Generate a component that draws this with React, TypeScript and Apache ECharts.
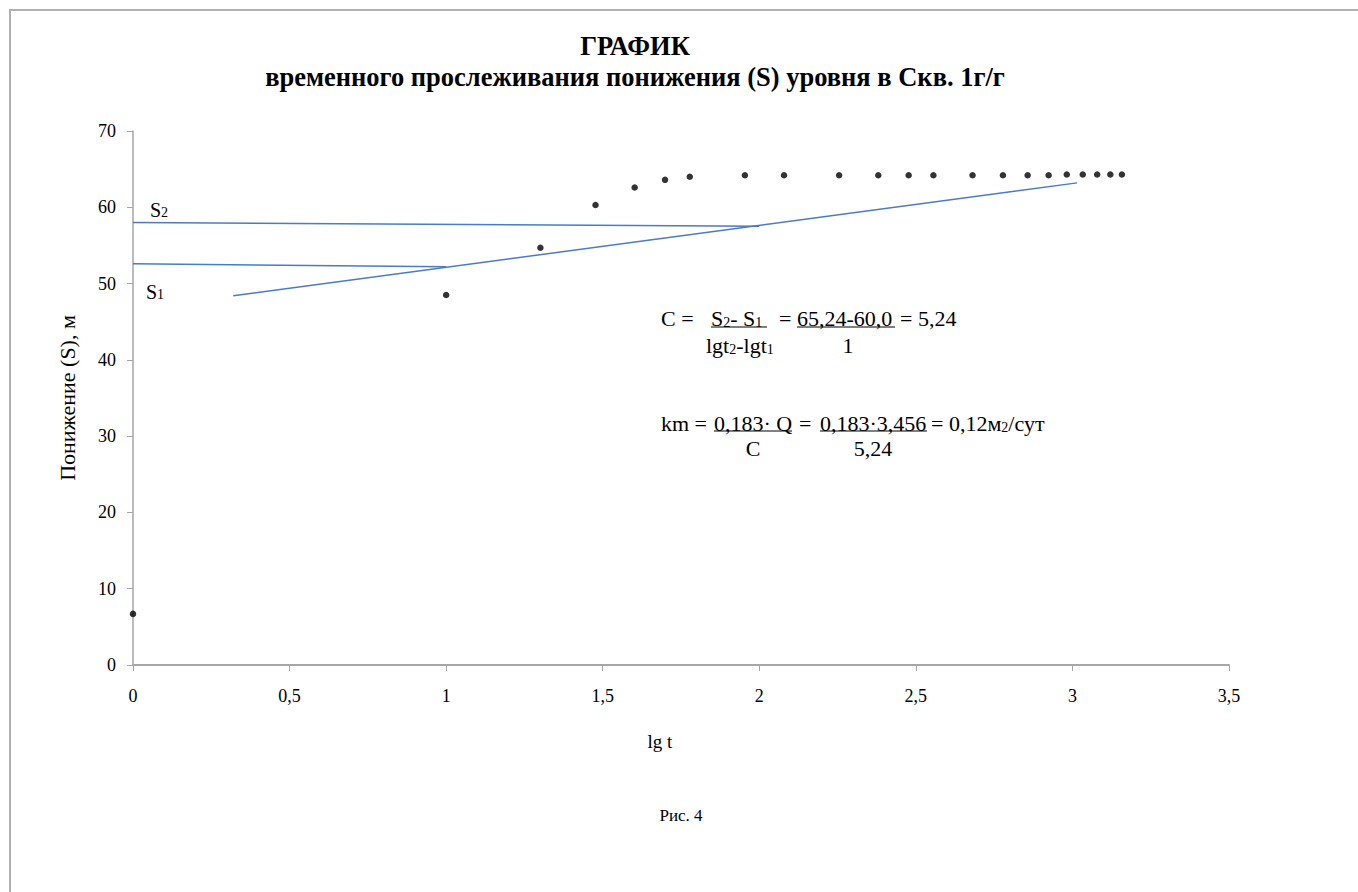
import React, { useEffect, useRef } from "react";
import * as echarts from "echarts";

// Observed drawdown vs. lg t (t in minutes)
const lgT = [0, 1, 1.301, 1.477, 1.602, 1.699, 1.778, 1.954, 2.079, 2.255, 2.38, 2.477, 2.556, 2.681, 2.778, 2.857, 2.924, 2.982, 3.033, 3.079, 3.121, 3.158];
const drawdown = [6.7, 48.5, 54.7, 60.3, 62.6, 63.6, 64.0, 64.2, 64.2, 64.2, 64.2, 64.2, 64.2, 64.2, 64.2, 64.2, 64.2, 64.3, 64.3, 64.3, 64.3, 64.3];

// Construction lines
const s2LineX = [0, 2.0];
const s2LineY = [58.0, 57.5];
const s1LineX = [0, 1.0];
const s1LineY = [52.6, 52.2];
const trendX = [0.32, 3.015];
const trendY = [48.4, 63.2];

const xTicks = { min: 0, max: 3.5, interval: 0.5 };
const yTicks = { min: 0, max: 70, interval: 10 };

const FONT = "Liberation Serif";
const BLUE = "#4a7bc4";
const AXIS = "#a6a6a6";

const zip = (xs: number[], ys: number[]) => xs.map((x, i) => [x, ys[i]]);

const FS = 22;
const sub = { fontSize: 14, fontFamily: FONT, fill: "#000", verticalAlign: "bottom", lineHeight: 23 } as any;
const main = (size: number) => ({ fontSize: size, fontFamily: FONT, fill: "#000", lineHeight: 23, verticalAlign: "bottom" } as any);

function txt(x: number, y: number, text: string, size = FS, align = "left") {
  return {
    type: "text",
    x,
    y,
    style: {
      text,
      fontSize: size,
      fontFamily: FONT,
      fill: "#000",
      align,
      verticalAlign: "middle",
      rich: { m: main(size), s: sub },
    },
  };
}

function uline(x1: number, x2: number, y: number) {
  return { type: "line", shape: { x1, y1: y, x2, y2: y }, style: { stroke: "#000", lineWidth: 1 } };
}

export default function App() {
  const ref = useRef<HTMLDivElement>(null);

  useEffect(() => {
    if (!ref.current) return;
    const chart = echarts.init(ref.current, undefined, { renderer: "svg" });
    const comma = (v: number) => String(v).replace(".", ",");
    chart.setOption({
      animation: false,
      backgroundColor: "#fff",
      title: {
        text: "ГРАФИК\nвременного прослеживания понижения (S) уровня в Скв. 1г/г",
        left: 630,
        top: 25,
        textAlign: "center",
        textStyle: { fontFamily: FONT, fontWeight: "bold", fontSize: 26.5, lineHeight: 31, color: "#000" },
      },
      grid: { left: 133, right: 129, top: 131, bottom: 227 },
      xAxis: {
        type: "value",
        ...xTicks,
        axisLine: { lineStyle: { color: AXIS, width: 2 } },
        axisTick: { show: true, length: 6, lineStyle: { color: AXIS, width: 1 } },
        axisLabel: { margin: 22, fontFamily: FONT, fontSize: 18, color: "#000", formatter: comma },
        splitLine: { show: false },
      },
      yAxis: {
        type: "value",
        ...yTicks,
        name: "Понижение (S), м",
        nameLocation: "middle",
        nameGap: 55,
        nameTextStyle: { fontFamily: FONT, fontSize: 22, color: "#000" },
        axisLine: { show: true, lineStyle: { color: AXIS, width: 1.5 } },
        axisTick: { show: true, length: 6, lineStyle: { color: AXIS, width: 1 } },
        axisLabel: { margin: 17, fontFamily: FONT, fontSize: 18, color: "#000", formatter: comma },
        splitLine: { show: false },
      },
      series: [
        {
          type: "line",
          data: zip(s2LineX, s2LineY),
          symbol: "none",
          lineStyle: { color: BLUE, width: 1.5 },
          silent: true,
        },
        {
          type: "line",
          data: zip(s1LineX, s1LineY),
          symbol: "none",
          lineStyle: { color: BLUE, width: 1.5 },
          silent: true,
        },
        {
          type: "line",
          data: zip(trendX, trendY),
          symbol: "none",
          lineStyle: { color: BLUE, width: 1.5 },
          silent: true,
        },
        {
          type: "scatter",
          data: zip(lgT, drawdown),
          symbol: "circle",
          symbolSize: 6.5,
          itemStyle: { color: "#000" },
        },
      ],
      graphic: [
        {
          type: "rect",
          shape: { x: 10, y: 10, width: 1400, height: 1000 },
          style: { fill: "none", stroke: "#b0b0b0", lineWidth: 2 },
          silent: true,
        },
        txt(150, 208, "{m|S}{s|2}", 20),
        txt(146, 290, "{m|S}{s|1}", 20),
        // C = (S2 - S1) / (lgt2 - lgt1)
        txt(661, 318, "C ="),
        txt(711, 318, "{m|S}{s|2}{m|- S}{s|1}"),
        uline(711, 767, 327),
        txt(779, 318, "="),
        txt(797, 318, "65,24-60,0"),
        uline(797, 895, 327),
        txt(900, 318, "= 5,24"),
        txt(706, 345, "{m|lgt}{s|2}{m|-lgt}{s|1}"),
        txt(848, 345, "1", FS, "center"),
        // km = 0,183·Q / C
        txt(661, 423, "km ="),
        txt(714, 423, "0,183· Q"),
        uline(714, 792, 431),
        txt(799, 423, "="),
        txt(820, 423, "0,183·3,456"),
        uline(820, 927, 431),
        txt(931, 423, "{m|= 0,12м}{s|2}{m|/сут}"),
        txt(753, 448, "C", FS, "center"),
        txt(873, 448, "5,24", FS, "center"),
        {
          type: "text",
          x: 660,
          y: 741,
          style: { text: "lg t", fontSize: 19, fontFamily: FONT, fill: "#000", align: "center", verticalAlign: "middle" },
        },
        {
          type: "text",
          x: 681,
          y: 815,
          style: { text: "Рис. 4", fontSize: 17, fontFamily: FONT, fill: "#000", align: "center", verticalAlign: "middle" },
        },
      ],
    });
    return () => chart.dispose();
  }, []);

  return (
    <div
      ref={ref}
      style={{ position: "fixed", left: 0, top: 0, width: 1358, height: 892, background: "#fff" }}
    />
  );
}
